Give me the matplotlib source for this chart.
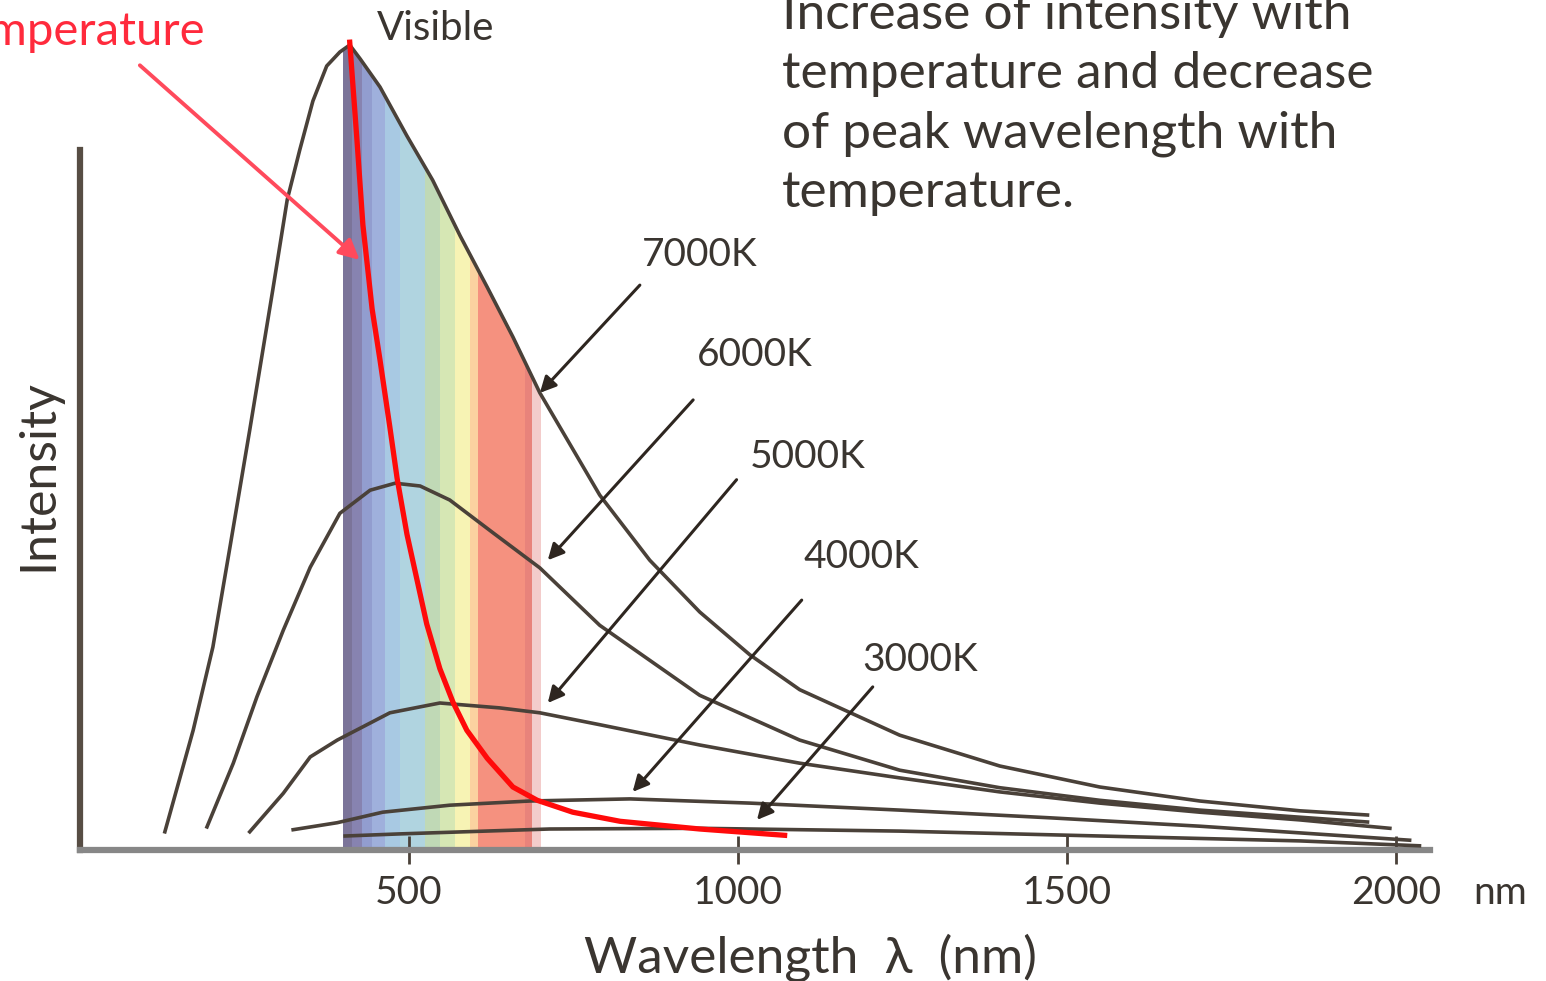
import numpy as np
import matplotlib.pyplot as plt
from matplotlib.patches import Polygon

plt.rcParams['font.family'] = ['Lato', 'DejaVu Sans']

# wavelength in nm, intensity in arbitrary units (axis height = 100)
wl_7000 = [129, 172, 202, 228, 258, 293, 315, 334, 354, 375, 395, 410, 426, 456, 497,
           536, 578, 619, 658, 699, 790, 866, 942, 1018, 1094, 1246, 1398, 1550, 1702, 1854, 1957]
i_7000 = [2.6, 17.1, 29, 43.3, 60, 80, 92.9, 100, 107, 112, 114, 115, 113, 109, 102,
          95.7, 87.7, 80.4, 73.3, 65.3, 50.7, 41.4, 34, 27.9, 22.9, 16.4, 12, 9, 7, 5.6, 5]

wl_6000 = [193, 233, 269, 309, 350, 395, 441, 479, 517, 562, 628, 699, 790, 942, 1094,
           1246, 1398, 1550, 1702, 1957]
i_6000 = [3.3, 12.4, 21.9, 31.4, 40.4, 48.1, 51.4, 52.4, 52, 50, 45.3, 40.3, 32.1, 22.1, 15.7,
          11.4, 8.9, 7.1, 5.7, 4]

wl_5000 = [258, 309, 350, 391, 430, 471, 547, 638, 699, 790, 942, 1094, 1246, 1398, 1550,
           1702, 1854, 1991]
i_5000 = [2.6, 8.1, 13.3, 15.7, 17.6, 19.6, 21, 20.3, 19.6, 17.9, 15, 12.4, 10.3, 8.3, 6.7,
          5.4, 4.3, 3.1]

wl_4000 = [324, 391, 460, 562, 684, 836, 1018, 1246, 1474, 1702, 2021]
i_4000 = [2.9, 3.9, 5.4, 6.4, 7, 7.3, 6.7, 5.7, 4.6, 3.4, 1.4]

wl_3000 = [403, 486, 714, 942, 1246, 1550, 1854, 2036]
i_3000 = [2, 2.3, 3, 3.1, 2.7, 2, 1.3, 0.6]

# red curve crossing the visible band
wl_red = [410, 421, 430, 444, 456, 471, 482, 497, 512, 527, 547, 567, 588, 619, 658,
          695, 749, 821, 942, 1071]
i_red = [115.4, 101.4, 89.3, 77.3, 70, 60.4, 53.1, 45.1, 38.7, 32.3, 25.9, 21.1, 17.1, 13.1, 9,
         7.1, 5.4, 4.1, 3, 2.1]

# visible band strips
band_edges = [400, 413, 428, 444, 463, 486, 524, 547, 570, 593, 605, 676, 687, 700]
band_colors = ['#7b7499', '#8783b0', '#929dcf', '#9fb0dc', '#a8c9e3', '#b0d4e0', '#c0d9b6',
               '#d6e7b4', '#f7f3b4', '#fbd2a0', '#f5917f', '#e8837b', '#f3cccb']

temps = ['7000K', '6000K', '5000K', '4000K', '3000K']
xticks = [500, 1000, 1500, 2000]
xtick_labels = ['500', '1000', '1500', '2000']

ink = '#4a4139'
text_c = '#3a3530'

fig = plt.figure(figsize=(15.46, 9.81), dpi=100)
ax = fig.add_axes([80 / 1546, 131 / 981, 1350 / 1546, 700 / 981])
ax.set_xlim(0, 2052)
ax.set_ylim(0, 100)

# colour band under the 7000K curve
under = Polygon(np.column_stack([wl_7000 + [wl_7000[-1], wl_7000[0]], i_7000 + [0, 0]]),
                closed=True, transform=ax.transData)
lefts = band_edges[:-1]
widths = np.diff(band_edges)
bars = ax.bar(lefts, 130, width=widths, align='edge', color=band_colors, linewidth=0,
              zorder=1)
for b in bars:
    b.set_clip_on(True)
    b.set_clip_box(None)
    b.set_clip_path(under)

for wl, it in [(wl_7000, i_7000), (wl_6000, i_6000), (wl_5000, i_5000),
               (wl_4000, i_4000), (wl_3000, i_3000)]:
    ax.plot(wl, it, color=ink, lw=2.6, clip_on=False, zorder=3)

ax.plot(wl_red, i_red, color='#ff0a0a', lw=3.8, clip_on=False, zorder=4)

# labels with arrows
arrows = [((942, 85), (851, 80.7), (699, 65.3)),
          ((1026, 70.7), (932, 64.3), (711, 41.4)),
          ((1106, 56.1), (998, 52.9), (711, 21)),
          ((1188, 41.9), (1097, 35.7), (840, 8.3)),
          ((1277, 27.1), (1205, 23.3), (1029, 4.3))]
for t, (lab, tail, head) in zip(temps, arrows):
    ax.text(lab[0], lab[1], t, fontsize=28, color=text_c, ha='center', va='center')
    ax.annotate('', xy=head, xytext=tail,
                arrowprops=dict(arrowstyle='-|>', color='#2e2620', lw=2.2,
                                mutation_scale=24, shrinkA=0, shrinkB=0), zorder=5)

ax.annotate('', xy=(425, 84.3), xytext=(91, 112.1), annotation_clip=False,
            arrowprops=dict(arrowstyle='-|>', color='#ff4a5c', lw=2.8,
                            mutation_scale=30, shrinkA=0, shrinkB=0), zorder=5)
ax.text(190, 116.9, 'Temperature', fontsize=34, color='#ff2a3c', ha='right', va='center')
ax.text(540, 117.4, 'Visible', fontsize=29, color=text_c, ha='center', va='center')

fig.text(782 / 1546, 1 - 104 / 981,
         'Increase of intensity with\ntemperature and decrease\nof peak wavelength with\ntemperature.',
         fontsize=37, color=text_c, ha='left', va='center', linespacing=1.36)

for s in ['top', 'right']:
    ax.spines[s].set_visible(False)
ax.spines['left'].set_color('#574d44')
ax.spines['left'].set_linewidth(4.5)
ax.spines['bottom'].set_color('#878787')
ax.spines['bottom'].set_linewidth(4.5)

ax.set_yticks([])
ax.set_xticks(xticks)
ax.set_xticklabels(xtick_labels)
ax.tick_params(axis='x', direction='inout', length=20, width=2, color=ink,
               labelsize=28, labelcolor=text_c, pad=8)
ax.text(2158, -0.0614, 'nm', transform=ax.get_xaxis_transform(), fontsize=28,
        color=text_c, ha='center', va='center')

fig.text(38 / 1546, 1 - 475 / 981, 'Intensity', rotation=90, fontsize=36,
         color=text_c, ha='center', va='center')
fig.text(810 / 1546, 1 - 958 / 981, 'Wavelength  λ  (nm)', fontsize=37,
         color=text_c, ha='center', va='center')

fig.savefig('out.png', dpi=100)
